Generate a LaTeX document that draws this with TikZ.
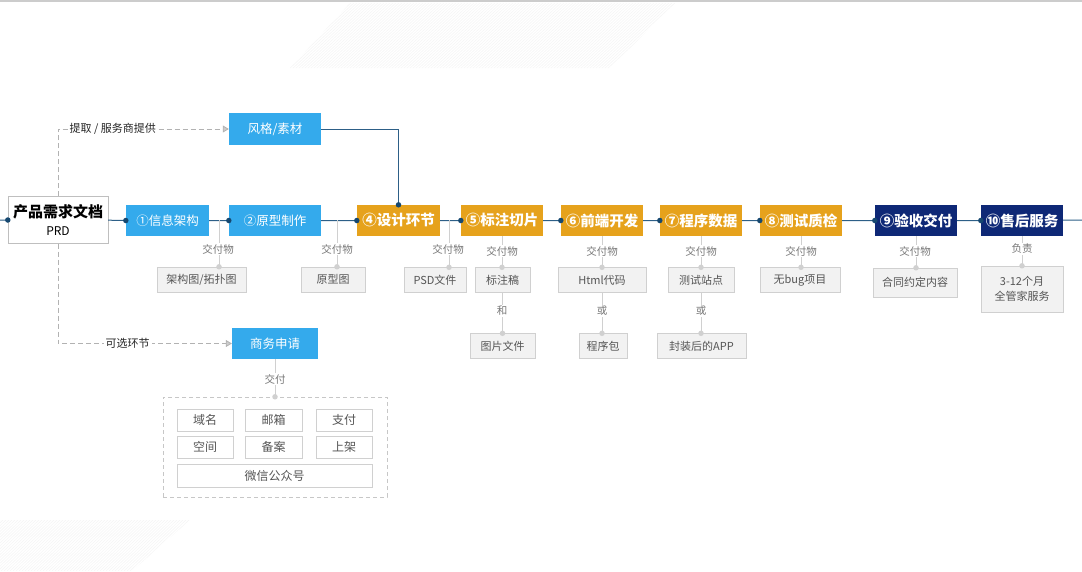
\documentclass[tikz,border=0pt]{standalone}
\usepackage{fontspec}
\setmainfont{Noto Sans CJK SC}
\usetikzlibrary{positioning,arrows.meta}
\definecolor{skyblue}{RGB}{52,170,236}
\definecolor{amber}{RGB}{230,162,28}
\definecolor{navyblue}{RGB}{14,40,118}
\definecolor{mainline}{RGB}{45,95,135}
\definecolor{dotblue}{RGB}{22,72,112}
\definecolor{boxgray}{RGB}{242,242,242}
\definecolor{linegray}{RGB}{208,208,208}
\definecolor{txtgray}{RGB}{85,85,85}
\tikzset{
  stage/.style={minimum width=83pt, minimum height=31pt, inner sep=0pt, text=white},
  bluestage/.style={stage, fill=skyblue, font=\fontsize{12.5}{14}\selectfont},
  goldstage/.style={stage, fill=amber, font=\fontsize{14.5}{16}\selectfont\bfseries},
  navystage/.style={stage, fill=navyblue, font=\fontsize{14.5}{16}\selectfont\bfseries},
  item/.style={draw=linegray, fill=boxgray, text=txtgray, inner sep=0pt, minimum height=25pt, font=\fontsize{11}{15}\selectfont, align=center},
  cell/.style={draw=linegray, fill=white, text=txtgray, inner sep=0pt, minimum height=22pt, font=\fontsize{12}{14}\selectfont},
  tag/.style={fill=white, text=txtgray!80, inner sep=1pt, font=\fontsize{10.5}{12}\selectfont},
  link/.style={draw=linegray, line width=0.8pt},
  dot/.style={circle, fill=dotblue, inner sep=0pt, minimum size=5.5pt},
  gdot/.style={circle, fill=linegray, inner sep=0pt, minimum size=5.5pt},
  hint/.style={draw=black!30, line width=0.8pt, dash pattern=on 5pt off 3pt, -{Triangle[width=7pt,length=6pt,fill=black!20]}},
}

\begin{document}
\begin{tikzpicture}[x=1pt, y=-1pt]
	\useasboundingbox (0,0) rectangle (1082,571);
	% background
	\draw[black!20, line width=2pt] (0,1) -- (1082,1);
	\begin{scope}
		\clip (350,3) -- (675,3) -- (610,68) -- (290,68) -- cycle;
		\foreach \i in {270,273,...,690} \draw[black!4, line width=0.6pt] (\i,70) -- (\i+75,0);
	\end{scope}
	\begin{scope}
		\clip (0,520) -- (190,520) -- (132,571) -- (0,571) -- cycle;
		\foreach \i in {-80,-77,...,200} \draw[black!4, line width=0.6pt] (\i,571) -- (\i+55,518);
	\end{scope}

	% stages
	\node[draw=black!25, fill=white, minimum width=100pt, minimum height=47pt, inner sep=0pt, align=center, font=\fontsize{15}{18}\selectfont] (prd) at (58,220)
		{\textbf{产品需求文档}\\{\fontsize{12}{14}\selectfont PRD}};
	\node[bluestage] (s1) at (167.5,220.5) {①信息架构};
	\node[bluestage, minimum width=92pt] (s2) at (275,220.5) {②原型制作};
	\node[goldstage] (s4) at (398.5,220.5) {④设计环节};
	\node[goldstage, minimum width=82pt] (s5) at (502,220.5) {⑤标注切片};
	\node[goldstage, minimum width=82pt] (s6) at (602,220.5) {⑥前端开发};
	\node[goldstage, minimum width=82pt] (s7) at (701,220.5) {⑦程序数据};
	\node[goldstage, minimum width=82pt] (s8) at (801,220.5) {⑧测试质检};
	\node[navystage, minimum width=82pt] (s9) at (916,220.5) {⑨验收交付};
	\node[navystage, minimum width=82pt] (s10) at (1022,220.5) {⑩售后服务};
	\node[bluestage, minimum width=92pt, minimum height=32pt] (style) at (275,129) {风格/素材};
	\node[bluestage, minimum width=86pt] (biz) at (275,343.5) {商务申请};

	% main line
	\coordinate (lineL) at (0,220);
	\coordinate (lineR) at (1082,220);
	\draw[mainline, line width=1pt] (lineL) -- (prd) -- (s1) -- (s2) -- (s4) -- (s5) -- (s6) -- (s7) -- (s8) -- (s9) -- (s10) -- (lineR);
	\draw[mainline, line width=1pt] (style.east) -| (s4.north);
	\foreach \s in {prd,s1,s2,s4,s5,s6,s7,s8,s9,s10}
		\node[dot] (dot-\s) at (\s.west) {};
	\node[dot] (dot-top) at (s4.north) {};

	% optional routes
	\draw[hint] (prd.north) |- node[pos=0.66, fill=white, inner sep=2pt, text=black!85, font=\fontsize{11}{13}\selectfont] (getlbl) {提取 / 服务商提供} (style.west);
	\draw[hint] (prd.south) |- node[pos=0.70, fill=white, inner sep=2pt, text=black!85, font=\fontsize{11}{13}\selectfont] (optlbl) {可选环节} (biz.west);

	% deliverables
	\node[item, minimum width=89pt] (d1) at (201.5,279.5) {架构图/拓扑图};
	\node[item, minimum width=64pt] (d2) at (333,279.5) {原型图};
	\node[item, minimum width=62pt] (d4) at (435,280) {PSD文件};
	\node[item, minimum width=55pt] (d5) at (502.5,280) {标注稿};
	\node[item, minimum width=65pt] (d5b) at (502.5,346) {图片文件};
	\node[item, minimum width=88pt] (d6) at (602,280) {Html代码};
	\node[item, minimum width=48pt] (d6b) at (603,346) {程序包};
	\node[item, minimum width=66pt] (d7) at (701,280) {测试站点};
	\node[item, minimum width=89pt] (d7b) at (701.5,346) {封装后的APP};
	\node[item, minimum width=80pt] (d8) at (800,280) {无bug项目};
	\node[item, minimum width=84pt, minimum height=29pt] (d9) at (915,282.5) {合同约定内容};
	\node[item, minimum width=82pt, minimum height=46pt] (d10) at (1022,289) {3-12个月\\全管家服务};

	\coordinate (j1) at (219,220);
	\coordinate (j2) at (337,220);
	\coordinate (j4) at (449,220);
	\draw[link] (j1) -- (j1 |- d1.north) node[gdot] (g1) {};
	\draw[link] (j2) -- (j2 |- d2.north) node[gdot] (g2) {};
	\draw[link] (j4) -- (j4 |- d4.north) node[gdot] (g4) {};
	\draw[link] (s5.south) -- (s5.south |- d5.north) node[gdot] (g5) {};
	\draw[link] (s6.south) -- (s6.south |- d6.north) node[gdot] (g6) {};
	\draw[link] (s7.south) -- (s7.south |- d7.north) node[gdot] (g7) {};
	\draw[link] (s8.south) -- (s8.south |- d8.north) node[gdot] (g8) {};
	\draw[link] (s9.south) -- (s9.south |- d9.north) node[gdot] (g9) {};
	\draw[link] (s10.south) -- (s10.south |- d10.north) node[gdot] (g10) {};
	\draw[link] (d5.south) -- (d5.south |- d5b.north) node[gdot] (g5b) {};
	\draw[link] (d6.south) -- (d6.south |- d6b.north) node[gdot] (g6b) {};
	\draw[link] (d7.south) -- (d7.south |- d7b.north) node[gdot] (g7b) {};

	\node[tag] (t1) at (218,249) {交付物};
	\node[tag] (t2) at (337,249) {交付物};
	\node[tag] (t4) at (448,249) {交付物};
	\node[tag] (t5) at (502,251) {交付物};
	\node[tag] (t6) at (602,251) {交付物};
	\node[tag] (t7) at (701,251) {交付物};
	\node[tag] (t8) at (801,251) {交付物};
	\node[tag] (t9) at (915,251) {交付物};
	\node[tag] (t10) at (1022,249) {负责};
	\node[tag] (t5b) at (502,311) {和};
	\node[tag] (t6b) at (602,311) {或};
	\node[tag] (t7b) at (701,311) {或};

	% business panel
	\node[draw=black!22, dash pattern=on 4pt off 3pt, minimum width=224pt, minimum height=100pt, inner sep=0pt] (panel) at (275,447) {};
	\draw[link] (biz.south) -- (panel.north) node[gdot] (gp) {};
	\node[tag] (tp) at (275,379) {交付};
	\node[cell, minimum width=56pt] (c1) at (205,420) {域名};
	\node[cell, minimum width=57pt] (c2) at (273.5,420) {邮箱};
	\node[cell, minimum width=56pt] (c3) at (344,420) {支付};
	\node[cell, minimum width=56pt] (c4) at (205,447) {空间};
	\node[cell, minimum width=57pt] (c5) at (273.5,447) {备案};
	\node[cell, minimum width=56pt] (c6) at (344,447) {上架};
	\node[cell, minimum width=195pt, minimum height=23pt] (c7) at (274.5,475.5) {微信公众号};
\end{tikzpicture}
\end{document}
